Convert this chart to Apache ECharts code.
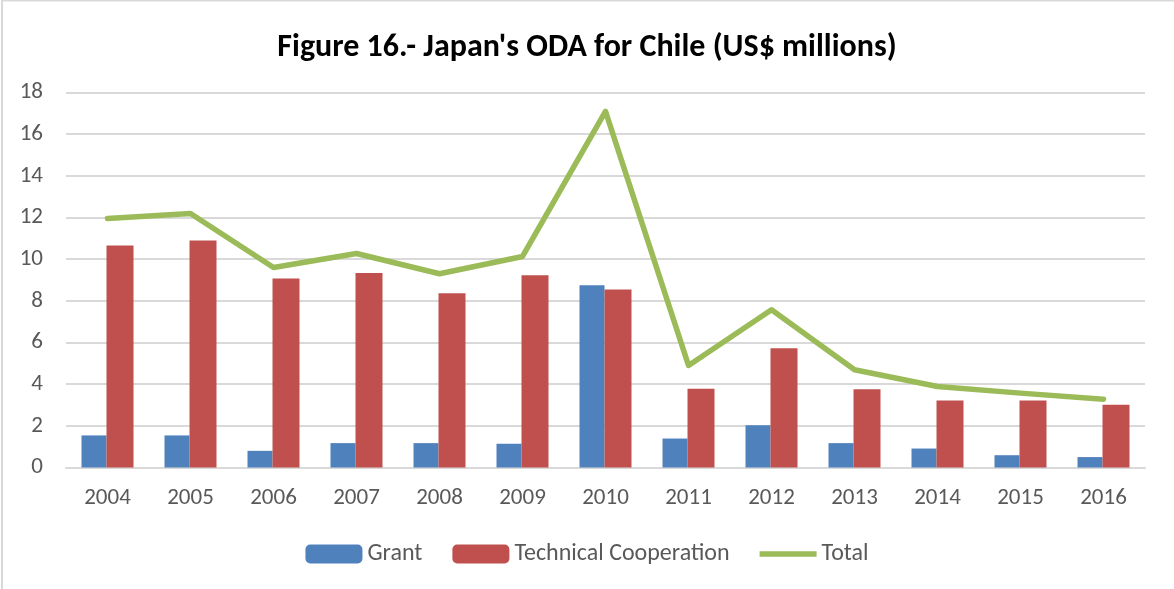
<!DOCTYPE html>
<html lang="en">
    <head>
        <meta charset="UTF-8"/>
        <script src="https://cdn.jsdelivr.net/npm/echarts@6/dist/echarts.min.js"></script>
        <title>Japan's ODA for Chile</title>
        <style>
            html, body { margin: 0; padding: 0; background: #fff; }
        </style>
    </head>
    <body>
        <div id="main" style="width: 1174px;height:589px;"></div>
        <script type="text/javascript">

            // data
            var years = ['2004', '2005', '2006', '2007', '2008', '2009', '2010',
                         '2011', '2012', '2013', '2014', '2015', '2016'];
            var grant = [1.54, 1.54, 0.8, 1.17, 1.17, 1.14, 8.75, 1.39, 2.03, 1.17, 0.91, 0.59, 0.5];
            var techCoop = [10.66, 10.9, 9.07, 9.34, 8.37, 9.23, 8.54, 3.78, 5.73, 3.76, 3.22, 3.22, 3.01];
            var total = [11.95, 12.19, 9.6, 10.27, 9.3, 10.13, 17.09, 4.9, 7.57, 4.69, 3.89, 3.57, 3.28];

            var font = 'Carlito, "Liberation Sans Narrow", "Open Sans", sans-serif';

            var myChart = echarts.init(document.getElementById('main'));

            option = {
                backgroundColor: '#ffffff',
                animation: false,
                title: {
                    text: "Figure 16.- Japan's ODA for Chile (US$ millions)",
                    left: 'center',
                    top: 27,
                    textStyle: {
                        color: '#000000',
                        fontFamily: font,
                        fontWeight: 'bold',
                        fontSize: 32
                    }
                },
                graphic: [{
                    type: 'rect',
                    shape: { x: 2, y: 0.5, width: 1200, height: 700 },
                    style: { fill: 'none', stroke: '#d9d9d9', lineWidth: 2 },
                    silent: true
                }],
                legend: {
                    bottom: 18,
                    left: 'center',
                    itemWidth: 57,
                    itemHeight: 19,
                    itemGap: 30,
                    textStyle: { color: '#595959', fontFamily: font, fontSize: 24 },
                    data: [
                        'Grant',
                        'Technical Cooperation',
                        { name: 'Total', icon: 'path://M0,0 L54,0 L54,5 L0,5 Z' }
                    ]
                },
                grid: {
                    left: 66,
                    right: 29,
                    top: 92.5,
                    bottom: 121.5,
                    containLabel: false
                },
                xAxis: {
                    type: 'category',
                    data: years,
                    axisTick: { show: false },
                    axisLine: { lineStyle: { color: '#d9d9d9', width: 2 } },
                    axisLabel: { color: '#595959', fontFamily: font, fontSize: 23, margin: 19 }
                },
                yAxis: {
                    type: 'value',
                    min: 0,
                    max: 18,
                    interval: 2,
                    axisLine: { show: false },
                    axisTick: { show: false },
                    splitLine: { lineStyle: { color: '#d9d9d9', width: 2 } },
                    axisLabel: { color: '#595959', fontFamily: font, fontSize: 23, margin: 23 }
                },
                series: [
                    {
                        name: 'Grant',
                        type: 'bar',
                        data: grant,
                        barWidth: 25,
                        barGap: '0%',
                        itemStyle: { color: '#4f81bd' }
                    },
                    {
                        name: 'Technical Cooperation',
                        type: 'bar',
                        data: techCoop,
                        barWidth: 27,
                        barGap: '0%',
                        itemStyle: { color: '#c0504d' }
                    },
                    {
                        name: 'Total',
                        type: 'line',
                        data: total,
                        symbol: 'none',
                        lineStyle: { color: '#9bbb59', width: 5.5, cap: 'round', join: 'round' },
                        itemStyle: { color: '#9bbb59' }
                    }
                ]
            };

            myChart.setOption(option);

        </script>
    </body>
</html>
